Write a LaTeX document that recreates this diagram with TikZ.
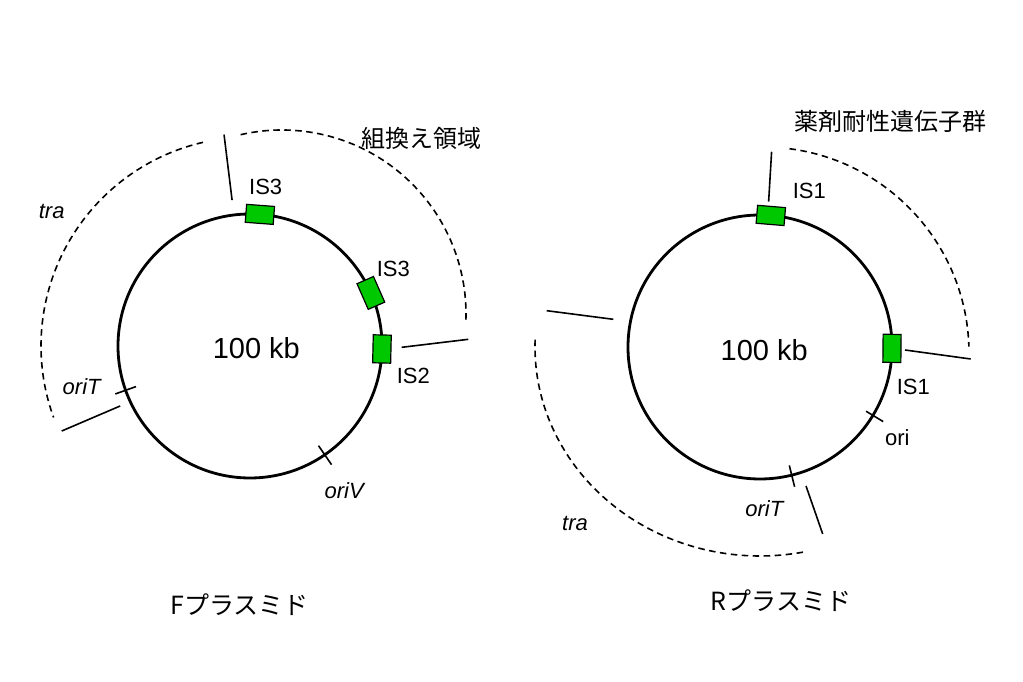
\documentclass[tikz,border=0pt]{standalone}
\usepackage{fontspec}
\setmainfont{Liberation Sans}
\newfontfamily\jpfont{Noto Sans CJK JP}
\usetikzlibrary{calc}
\definecolor{isgreen}{RGB}{0,200,0}
\begin{document}
\begin{tikzpicture}[x=1pt, y=1pt, line width=1.6pt,
  ring/.style={line width=2.8pt},
  isbox/.style={draw, line width=1.2pt, fill=isgreen, minimum width=28pt, minimum height=18pt, inner sep=0pt},
  region/.style={dash pattern=on 6.5pt off 4.5pt},
  lbl/.style={font=\fontsize{22}{22}\selectfont},
  sizelbl/.style={font=\fontsize{29}{29}\selectfont},
  jp/.style={font=\jpfont\fontsize{24}{24}\selectfont},
  title/.style={font=\jpfont\fontsize{25}{25}\selectfont}]
  \useasboundingbox (0,0) rectangle (1023,682);
  % F plasmid
  \begin{scope}[shift={(250,336)}]
    \coordinate (FO) at (0,0);
    \draw[ring] (FO) circle[radius=132];
    \draw (97:147) -- (97:213);
    \draw (-0.5:151.7) -- (1.75:218.4);
    \draw (204.8:143) -- (204.3:206.6);
    \draw[region] (103:209) arc[start angle=103, end angle=200, radius=209];
    \draw[region] ($(32,32)+(103:184)$) arc[start angle=103, end angle=-3, radius=184];
    % oriT, oriV
    \draw (199.6:121) -- (199.6:143);
    \draw (-55.5:121) -- (-55.5:144);
    \node[isbox, rotate=-4.3] (FIS3a) at (85.7:132) {};
    \node[isbox, rotate=-66.3] (FIS3b) at (23.7:132) {};
    \node[isbox, rotate=-91.3] (FIS2) at (-1.3:132) {};
    \node[lbl] (FlIS3a) at (15.7,158.7) {IS3};
    \node[lbl] (FlIS3b) at (143.3,76.7) {IS3};
    \node[lbl] (FlIS2) at (163.3,-30) {IS2};
    \node[lbl] (Ftra) at (-198.3,134.3) {\textit{tra}};
    \node[lbl] (ForiT) at (-167.7,-40.7) {\textit{oriT}};
    \node[lbl] (ForiV) at (95,-144.7) {\textit{oriV}};
    \node[jp] (Frec) at (171.7,207.7) {組換え領域};
    \node[sizelbl] (Fsize) at (6.3,-2) {100 kb};
  \end{scope}
  \node[title] (Fname) at (239.7,77) {Fプラスミド};
  % R plasmid
  \begin{scope}[shift={(760,335)}]
    \coordinate (RO) at (0,0);
    \draw[ring] (RO) circle[radius=132];
    \draw (86.6:145.6) -- (86.6:195.6);
    \draw (145,-3) -- (210.7,-12);
    \draw (-213.3,36.3) -- (-146.7,27.7);
    \draw (46,-139) -- (62.7,-187);
    \draw[region] ($(3,-6)+(82.6:206)$) arc[start angle=82.6, end angle=1.8, radius=206];
    \draw[region] (178:225 and 209) arc[start angle=178, end angle=281, x radius=225, y radius=209];
    % ori, oriT
    \draw (-31.2:124) -- (-31.2:144);
    \draw (-76.1:122) -- (-76.1:144);
    \node[isbox, rotate=-4.7] (RIS1a) at (85.3:132) {};
    \node[isbox, rotate=-90.6] (RIS1b) at (-0.6:132) {};
    \node[lbl] (RlIS1a) at (49.3,156.3) {IS1};
    \node[lbl] (RlIS1b) at (153.3,-39.7) {IS1};
    \node[lbl] (Rori) at (137.3,-90.3) {ori};
    \node[lbl] (RoriT) at (5,-161.3) {\textit{oriT}};
    \node[lbl] (Rtra) at (-185,-177) {\textit{tra}};
    \node[jp] (Rres) at (130,225.3) {薬剤耐性遺伝子群};
    \node[sizelbl] (Rsize) at (4.2,-3) {100 kb};
  \end{scope}
  \node[title] (Rname) at (781,81) {Rプラスミド};
\end{tikzpicture}
\end{document}
